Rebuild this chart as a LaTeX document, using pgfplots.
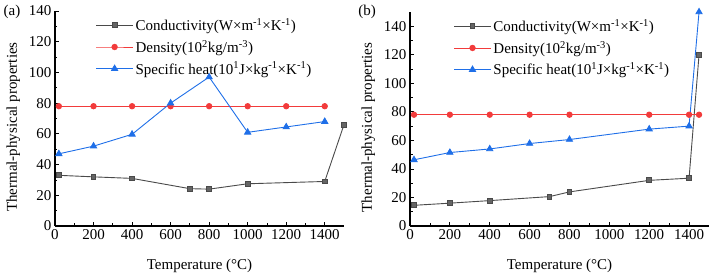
\documentclass[border=0pt]{standalone}
\usepackage{fontspec}
\setmainfont{Liberation Serif}
\usepackage{pgfplots}
\pgfplotsset{compat=1.18}

\definecolor{condc}{HTML}{4A4A4A}
\definecolor{densc}{HTML}{F23B3B}
\definecolor{specc}{HTML}{1F6FE8}

\pgfplotsset{
  thermo/.style={
    scale only axis,
    axis line style={line width=1.1pt},
    axis x line*=bottom, axis y line*=left,
    tick align=inside,
    tick style={black, line width=0.8pt},
    major tick length=4pt, minor tick length=2.5pt,
    minor x tick num=1, minor y tick num=1,
    xmin=0, xmax=1500,
    xtick={0,200,...,1400},
    ymin=0,
    ytick={0,20,...,140},
    tick label style={font=\fontsize{15}{17}\selectfont},
    /pgf/number format/assume math mode=true,
    /pgf/number format/1000 sep={},
    label style={font=\fontsize{15}{17}\selectfont},
    xlabel={Temperature (°C)},
    ylabel={Thermal-physical properties},
    xlabel style={at={(ticklabel cs:0.5)}, yshift=-13pt},
    ylabel style={at={(ticklabel cs:0.46)}, yshift=2pt},
    legend cell align=left,
    legend style={draw=none, fill=none, font=\fontsize{15}{17}\selectfont,
      anchor=north west, row sep=8pt, inner sep=0pt,
      nodes={inner xsep=2pt, inner ysep=0pt}},
    legend image code/.code={
      \draw[mark repeat=2,mark phase=2] plot coordinates {(0pt,0pt) (18.5pt,0pt) (37pt,0pt)};},
    cond/.style={condc, line width=0.9pt, mark=square*, mark size=2.4pt, mark options={fill=condc!85!white}},
    dens/.style={densc, line width=0.9pt, mark=*, mark size=2.7pt},
    spec/.style={specc, line width=0.9pt, mark=triangle*, mark size=3.5pt},
  }
}

\begin{document}
\begin{tikzpicture}
\path (0pt,0pt) rectangle (715pt,278pt);

% panel (a)
\begin{axis}[thermo, at={(55pt,52pt)}, anchor=south west,
  width=289pt, height=215pt, ymax=140,
  legend style={at={(0.14,0.966)}}]
\addplot[cond] coordinates {(20,33) (200,32) (400,31) (700,24.3) (800,24) (1000,27.5) (1400,29) (1500,66)};
\addplot[dens] coordinates {(20,78) (200,78) (400,78) (600,78) (800,78) (1000,78) (1200,78) (1400,78)};
\addplot[spec] coordinates {(20,47) (200,52) (400,59.7) (600,80) (800,97) (1000,61) (1200,64.5) (1400,68)};
\legend{Conductivity(W×m\textsuperscript{-1}×K\textsuperscript{-1}),
        Density(10\textsuperscript{2}kg/m\textsuperscript{-3}),
        Specific heat(10\textsuperscript{1}J×kg\textsuperscript{-1}×K\textsuperscript{-1})}
\end{axis}
\node[font=\fontsize{15}{17}\selectfont] at (12pt,266pt) {(a)};

% panel (b)
\begin{axis}[thermo, at={(410pt,52pt)}, anchor=south west,
  width=299pt, height=214pt, ymax=150,
  legend style={at={(0.145,0.966)}}]
\addplot[cond] coordinates {(20,14.5) (200,16) (400,17.8) (700,20.6) (800,23.9) (1200,32) (1400,33.5) (1450,120)};
\addplot[dens] coordinates {(20,78) (200,78) (400,78) (600,78) (800,78) (1200,78) (1400,78) (1450,78)};
\addplot[spec] coordinates {(20,46.4) (200,51.5) (400,54) (600,57.8) (800,60.6) (1200,67.9) (1400,70) (1450,150)};
\legend{Conductivity(W×m\textsuperscript{-1}×K\textsuperscript{-1}),
        Density(10\textsuperscript{2}kg/m\textsuperscript{-3}),
        Specific heat(10\textsuperscript{1}J×kg\textsuperscript{-1}×K\textsuperscript{-1})}
\end{axis}
\node[font=\fontsize{15}{17}\selectfont] at (367pt,266pt) {(b)};
\end{tikzpicture}
\end{document}
